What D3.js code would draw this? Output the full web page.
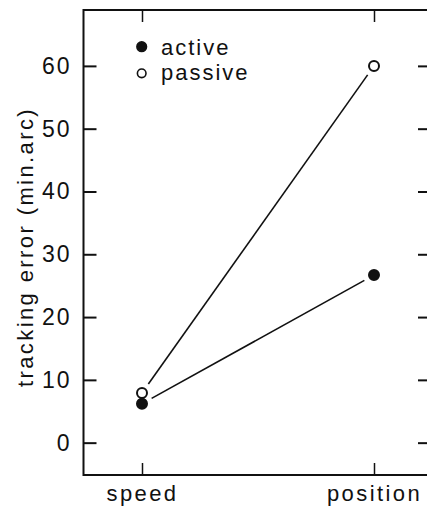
<!DOCTYPE html>
<html>
<head>
<meta charset="utf-8">
<script src="https://cdn.jsdelivr.net/npm/d3@7"></script>
<style>
  body { margin: 0; background: #fff; }
  svg text { font-family: "Liberation Sans", Arial, sans-serif; fill: #111; }
</style>
</head>
<body>
<div class="graphics"></div>
<script>
var conditions = ["speed", "position"]
var activeValues = [6.2, 26.7]
var passiveValues = [7.9, 60]
var yTicks = [0, 10, 20, 30, 40, 50, 60]
var seriesNames = ["active", "passive"]

var w = 427, h = 510
var frameLeft = 83.5, frameRight = 431, frameTop = 10, frameBottom = 475

var svg = d3.select('.graphics')
    .append('svg')
    .attr("width", w)
    .attr("height", h)

var x = d3.scalePoint()
    .domain(conditions)
    .range([142, 374])

var y = d3.scaleLinear()
    .domain([-5.15, 68.9])
    .range([frameBottom, frameTop])

// frame
svg.append("rect")
    .attr("x", frameLeft).attr("y", frameTop)
    .attr("width", frameRight - frameLeft).attr("height", frameBottom - frameTop)
    .attr("fill", "none").attr("stroke", "#111").attr("stroke-width", 2)

// y axis left, ticks pointing in
var yAxis = d3.axisLeft(y).tickValues(yTicks).tickSize(-13).tickPadding(12).tickFormat(d3.format("d"))
var gy = svg.append("g").attr("transform", "translate(" + frameLeft + ",0)").call(yAxis)
gy.select(".domain").remove()
gy.selectAll("line").attr("stroke", "#111").attr("stroke-width", 2)
gy.selectAll("text")
    .attr("font-size", 23).attr("letter-spacing", 2)
    .attr("font-family", "Liberation Sans, Arial, sans-serif")

// right ticks
var gr = svg.append("g").attr("transform", "translate(" + frameRight + ",0)")
    .call(d3.axisRight(y).tickValues(yTicks).tickSize(-13).tickFormat(""))
gr.select(".domain").remove()
gr.selectAll("line").attr("stroke", "#111").attr("stroke-width", 2)

// x axis bottom
var gx = svg.append("g").attr("transform", "translate(0," + frameBottom + ")")
    .call(d3.axisBottom(x).tickSize(-12).tickPadding(10))
gx.select(".domain").remove()
gx.selectAll("line").attr("stroke", "#111").attr("stroke-width", 1.5)
gx.selectAll("text")
    .attr("font-size", 22).attr("letter-spacing", 2.4)
    .attr("font-family", "Liberation Sans, Arial, sans-serif")

// top ticks
var gt = svg.append("g").attr("transform", "translate(0," + frameTop + ")")
    .call(d3.axisTop(x).tickSize(-12).tickFormat(""))
gt.select(".domain").remove()
gt.selectAll("line").attr("stroke", "#111").attr("stroke-width", 1.5)

// y label
svg.append("text")
    .attr("transform", "translate(33," + 247 + ") rotate(-90)")
    .attr("text-anchor", "middle")
    .attr("font-size", 22)
    .attr("letter-spacing", 2.4)
    .text("tracking error (min.arc)")

// lines with a gap at the markers
function segment(vals) {
    var x1 = x(conditions[0]), y1 = y(vals[0]), x2 = x(conditions[1]), y2 = y(vals[1])
    var len = Math.sqrt((x2 - x1) * (x2 - x1) + (y2 - y1) * (y2 - y1))
    var gap = 11
    var ux = (x2 - x1) / len, uy = (y2 - y1) / len
    return [x1 + ux * gap, y1 + uy * gap, x2 - ux * gap, y2 - uy * gap]
}

var series = [
    {name: "active", values: activeValues, fill: "#111"},
    {name: "passive", values: passiveValues, fill: "#fff"}
]

series.forEach(function(s){
    var seg = segment(s.values)
    svg.append("line")
        .attr("x1", seg[0]).attr("y1", seg[1])
        .attr("x2", seg[2]).attr("y2", seg[3])
        .attr("stroke", "#111").attr("stroke-width", 1.6)
})

series.forEach(function(s){
    svg.selectAll(".pt-" + s.name)
        .data(s.values)
        .enter()
        .append("circle")
        .attr("class", "pt-" + s.name)
        .attr("cx", function(d, i){ return x(conditions[i]) })
        .attr("cy", function(d){ return y(d) })
        .attr("r", 5)
        .attr("fill", s.fill)
        .attr("stroke", "#111")
        .attr("stroke-width", 2)
})

// legend
var legend = svg.append("g")
legend.selectAll("circle")
    .data(series)
    .enter()
    .append("circle")
    .attr("cx", 141.7)
    .attr("cy", function(d, i){ return 46.7 + i * 26.6 })
    .attr("r", function(d, i){ return i == 0 ? 4.8 : 4.3 })
    .attr("fill", function(d){ return d.fill })
    .attr("stroke", "#111")
    .attr("stroke-width", 1.6)
legend.selectAll("text")
    .data(seriesNames)
    .enter()
    .append("text")
    .attr("x", 161)
    .attr("y", function(d, i){ return 54.5 + i * 25 })
    .attr("font-size", 22)
    .attr("letter-spacing", 2)
    .text(function(d){ return d })
</script>
</body>
</html>
